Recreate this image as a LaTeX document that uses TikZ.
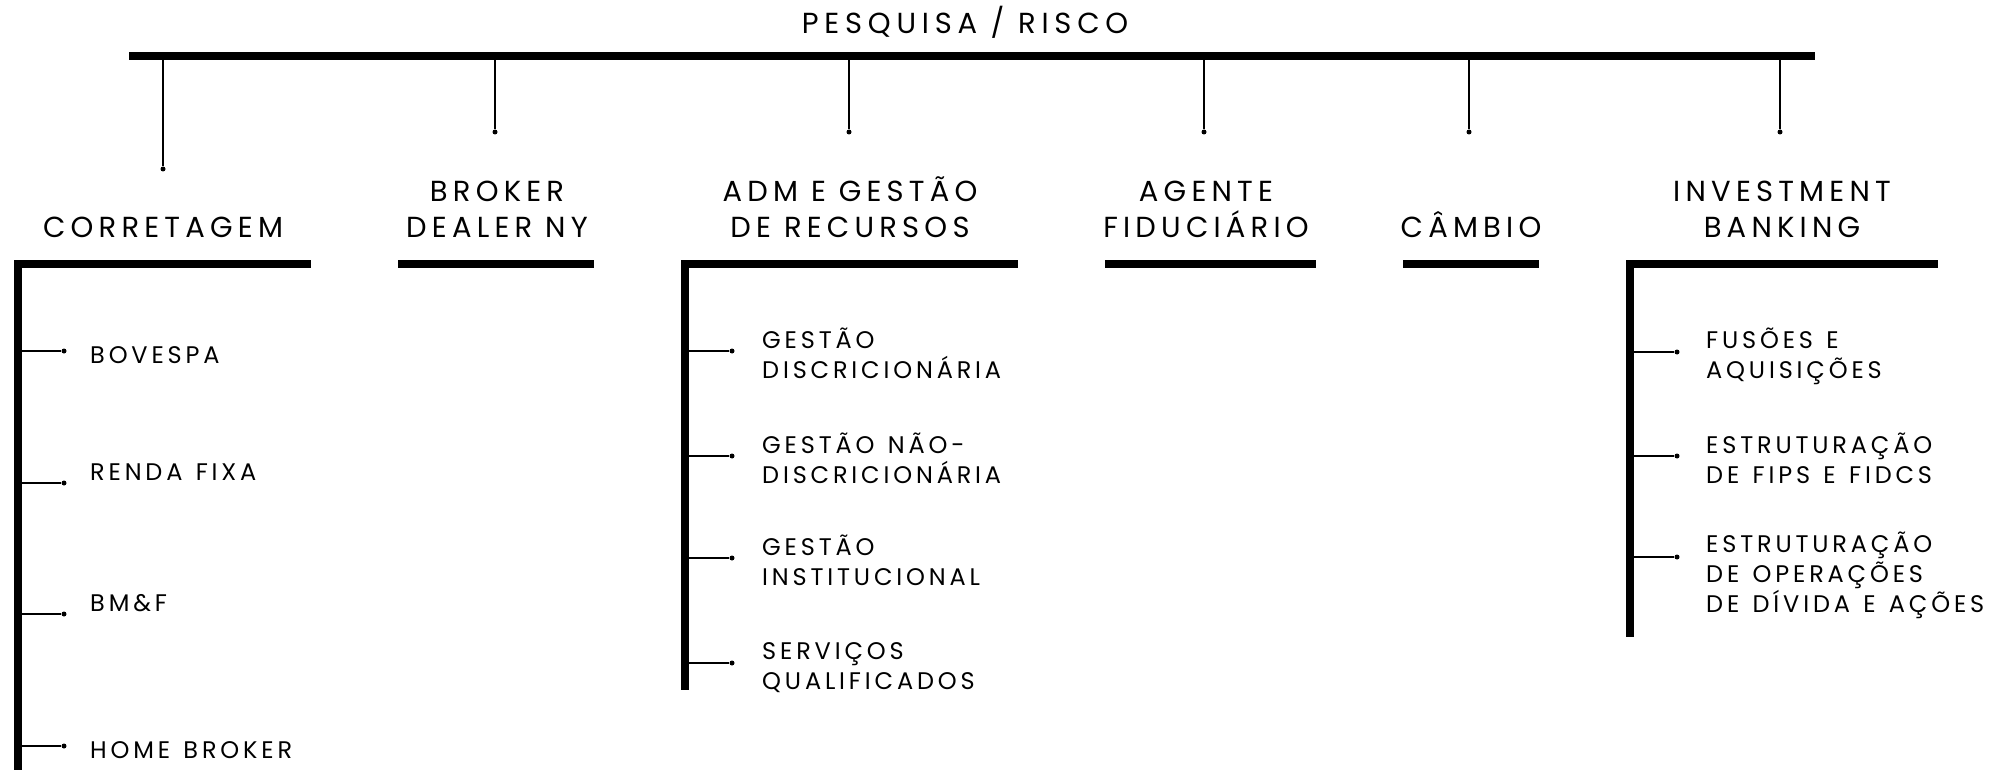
\documentclass[tikz,border=0pt]{standalone}
\usepackage{fontspec}
\newfontfamily\titlefont[LetterSpace=20]{Poppins}
\newfontfamily\headfont[LetterSpace=18]{Poppins}
\newfontfamily\itemfont[LetterSpace=16,WordSpace=1.3]{Poppins}
\begin{document}
\begin{tikzpicture}[x=1pt,y=-1pt,
  bigbar/.style={line width=8pt},
  thinline/.style={line width=1.3pt},
  dotmark/.style={circle,fill,inner sep=0pt,minimum size=5pt},
  head/.style={font=\headfont\fontsize{29}{36}\selectfont,align=center,inner sep=0pt,anchor=south,text depth=0pt},
  titlestyle/.style={font=\titlefont\fontsize{29}{36}\selectfont,inner sep=0pt,anchor=south,text depth=0pt},
  item/.style={font=\itemfont\fontsize{24}{30}\selectfont,align=left,inner sep=0pt,anchor=south west,text depth=0pt},
]
\useasboundingbox (0,0) rectangle (2007,770);
% title
\node[titlestyle] (title) at (965,34) {PESQUISA / RISCO};
% top bar
\coordinate (tbl) at (129,56);
\coordinate (tbr) at (1815,56);
\draw[bigbar] (tbl) -- (tbr);
% headings
\node[head] (corr) at (163,238) {CORRETAGEM};
\node[head] (brok) at (497,238) {BROKER\\DEALER NY};
\node[head] (adm) at (850,238) {ADM E GESTÃO\\DE RECURSOS};
\node[head] (agen) at (1206,238) {AGENTE\\FIDUCIÁRIO};
\node[head] (camb) at (1471,238) {CÂMBIO};
\node[head] (inv) at (1782,238) {INVESTMENT\\BANKING};
% drop lines
\foreach \n/\x/\y in {dc/163/169, db/495/132, da/849/132, dg/1204/132, dm/1469/132, di/1780/132}{
  \coordinate (\n top) at (\x,60);
  \node[dotmark] (\n) at (\x,\y) {};
  \draw[thinline] (\n top) -- (\n);
}
% section bars
\coordinate (cL) at (14,264); \coordinate (cR) at (311,264);
\coordinate (cT) at (18,260); \coordinate (cB) at (18,775);
\draw[bigbar] (cL) -- (cR); \draw[bigbar] (cT) -- (cB);
\coordinate (bL) at (398,264); \coordinate (bR) at (594,264);
\draw[bigbar] (bL) -- (bR);
\coordinate (aL) at (681,264); \coordinate (aR) at (1018,264);
\coordinate (aT) at (685,260); \coordinate (aB) at (685,690);
\draw[bigbar] (aL) -- (aR); \draw[bigbar] (aT) -- (aB);
\coordinate (gL) at (1105,264); \coordinate (gR) at (1316,264);
\draw[bigbar] (gL) -- (gR);
\coordinate (mL) at (1403,264); \coordinate (mR) at (1539,264);
\draw[bigbar] (mL) -- (mR);
\coordinate (iL) at (1626,264); \coordinate (iR) at (1938,264);
\coordinate (iT) at (1630,260); \coordinate (iB) at (1630,637);
\draw[bigbar] (iL) -- (iR); \draw[bigbar] (iT) -- (iB);
% corretagem items
\foreach \n/\y in {c1/351, c2/483, c3/614, c4/746}{
  \coordinate (\n s) at (21,\y);
  \node[dotmark] (\n) at (64,\y) {};
  \draw[thinline] (\n s) -- (\n);
}
\node[item] (bov) at (90,364) {BOVESPA};
\node[item] (ren) at (90,481) {RENDA FIXA};
\node[item] (bmf) at (90,612) {BM\&F};
\node[item] (hom) at (90,759) {HOME BROKER};
% adm items
\foreach \n/\y in {a1/351, a2/456, a3/558, a4/663}{
  \coordinate (\n s) at (688,\y);
  \node[dotmark] (\n) at (732,\y) {};
  \draw[thinline] (\n s) -- (\n);
}
\node[item] (gd) at (762,379) {GESTÃO\\DISCRICIONÁRIA};
\node[item] (gn) at (762,484) {GESTÃO NÃO-\\DISCRICIONÁRIA};
\node[item] (gi) at (762,586) {GESTÃO\\INSTITUCIONAL};
\node[item] (sq) at (762,690) {SERVIÇOS\\QUALIFICADOS};
% investment items
\foreach \n/\y in {i1/352, i2/456, i3/557}{
  \coordinate (\n s) at (1633,\y);
  \node[dotmark] (\n) at (1677,\y) {};
  \draw[thinline] (\n s) -- (\n);
}
\node[item] (fa) at (1706,379) {FUSÕES E\\AQUISIÇÕES};
\node[item] (ef) at (1706,484) {ESTRUTURAÇÃO\\DE FIPS E FIDCS};
\node[item] (eo) at (1706,613) {ESTRUTURAÇÃO\\DE OPERAÇÕES\\DE DÍVIDA E AÇÕES};
\end{tikzpicture}
\end{document}
